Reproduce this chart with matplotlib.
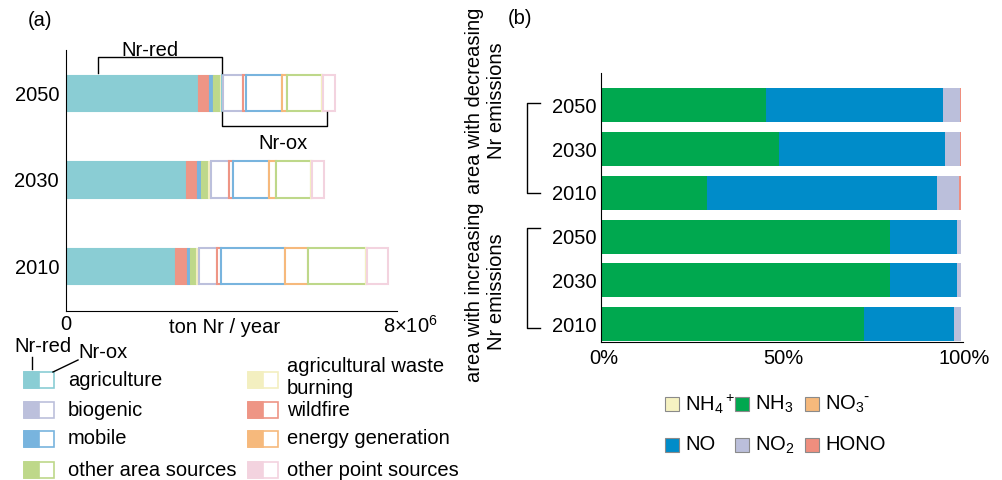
import matplotlib
matplotlib.use("Agg")
import matplotlib.pyplot as plt
from matplotlib.patches import Rectangle
from matplotlib.transforms import ScaledTranslation
import numpy as np

plt.rcParams['font.family'] = ['Liberation Sans', 'DejaVu Sans']
plt.rcParams['mathtext.default'] = 'regular'
plt.rcParams['font.size'] = 14.5

# ---- panel (a): Nr emissions by source, 1e6 ton Nr / year ----
years = ['2010', '2030', '2050']
sources = ['agriculture', 'biogenic', 'wildfire', 'mobile', 'energy generation',
           'other area sources', 'agricultural waste burning', 'other point sources']
src_colors = ['#8acdd4', '#bcc0dc', '#ee9585', '#78b4de', '#f6b97c',
              '#bed88a', '#f3efc0', '#f3d3df']

# one list per year, values in source order above
red_2010 = [2.63, 0.0, 0.290, 0.080, 0.0, 0.145, 0.041, 0.031]
red_2030 = [2.91, 0.0, 0.266, 0.089, 0.0, 0.176, 0.048, 0.024]
red_2050 = [3.18, 0.0, 0.283, 0.089, 0.010, 0.152, 0.024, 0.041]
ox_2010 = [0.0, 0.435, 0.089, 1.56, 0.549, 1.40, 0.020, 0.524]
ox_2030 = [0.0, 0.435, 0.089, 0.87, 0.162, 0.846, 0.020, 0.297]
ox_2050 = [0.017, 0.483, 0.080, 0.87, 0.121, 0.846, 0.024, 0.273]

# legend layout (two columns)
legend_left = ['agriculture', 'biogenic', 'mobile', 'other area sources']
legend_right = ['agricultural waste burning', 'wildfire', 'energy generation',
                'other point sources']

# ---- panel (b): composition, % ----
rows_b = ['2010', '2030', '2050', '2010', '2030', '2050']   # bottom to top
species = ['NH$_4$$^+$', 'NH$_3$', 'NO$_3$$^{\\text{-}}$', 'NO', 'NO$_2$', 'HONO']
sp_colors = ['#f6f2c2', '#00a84f', '#f6b97c', '#008cc9', '#bbbfdb', '#ef8e7e']
nh4 = [0.0, 0.0, 0.0, 0.0, 0.0, 0.0]
nh3 = [73.0, 80.2, 80.2, 29.6, 49.5, 46.0]
no3 = [0.0, 0.0, 0.0, 0.0, 0.0, 0.0]
no = [25.2, 18.7, 18.7, 63.7, 46.0, 49.1]
no2 = [1.8, 1.1, 1.1, 6.3, 4.2, 4.6]
hono = [0.0, 0.0, 0.0, 0.4, 0.3, 0.3]

W, H = 1003, 480
fig = plt.figure(figsize=(W/100, H/100), dpi=100)

# ---------------- panel (a) ----------------
ax1 = fig.add_axes([66/W, 1-311/H, 331/W, 261/H])
red = np.array([red_2010, red_2030, red_2050]) * 1e6
ox = np.array([ox_2010, ox_2030, ox_2050]) * 1e6
ypos = np.arange(len(years))
bh = 0.42
for i, y in enumerate(ypos):
    left = 0.0
    for j, c in enumerate(src_colors):
        w = red[i, j]
        if w > 0:
            ax1.barh(y, w, left=left, height=bh, color=c, edgecolor=c, linewidth=0.8)
        left += w
    for j, c in enumerate(src_colors):
        w = ox[i, j]
        if w > 0:
            ax1.barh(y, w, left=left, height=bh, facecolor='white', edgecolor=c,
                     linewidth=1.5)
        left += w

ax1.set_xlim(0, 8e6)
ax1.set_ylim(-0.52, 2.5)
ax1.set_yticks(ypos)
ax1.set_yticklabels(years)
ax1.set_xticks([0, 8e6])
ax1.set_xticklabels(['0', '8×10$^6$'])
ax1.tick_params(length=0)
ax1.tick_params(axis='x', pad=3)
ax1.tick_params(axis='y', pad=5)
lbl = ax1.get_xticklabels()[1]
lbl.set_transform(lbl.get_transform() + ScaledTranslation(13/100, 0, fig.dpi_scale_trans))
ax1.set_xlabel('ton Nr / year')
ax1.xaxis.set_label_coords((225-66)/331, -0.025)
for s in ['top', 'right']:
    ax1.spines[s].set_visible(False)

# Nr-red / Nr-ox brackets (2050 bar)
red_end = red[2].sum()
ox_end = red_end + ox[2].sum()
kw = dict(color='k', lw=1, clip_on=False)
ax1.plot([0.77e6, 0.77e6, red_end, red_end], [2.23, 2.42, 2.42, 2.23], **kw)
ax1.text(2.03e6, 2.5, 'Nr-red', ha='center', va='center', clip_on=False)
ax1.plot([red_end, red_end, ox_end - 0.18e6, ox_end - 0.18e6],
         [1.78, 1.62, 1.62, 1.78], **kw)
ax1.text(5.24e6, 1.42, 'Nr-ox', ha='center', va='center')

# ---------------- panel (b) ----------------
ax2 = fig.add_axes([600.7/W, 1-342/H, 362/W, 269/H])
yb = np.arange(len(rows_b))
left = np.zeros(len(rows_b))
for vals, c in zip([nh4, nh3, no3, no, no2, hono], sp_colors):
    vals = np.array(vals)
    ax2.barh(yb, vals, left=left, height=0.78, color=c, linewidth=0)
    left += vals
ax2.set_xlim(0, 100.5)
ax2.set_ylim(-0.41, 5.74)
ax2.set_yticks(yb)
ax2.set_yticklabels(rows_b)
ax2.set_xticks([0, 50, 100])
ax2.set_xticklabels(['0%', '50%', '100%'])
ax2.tick_params(length=0)
ax2.tick_params(axis='x', pad=5)
ax2.tick_params(axis='y', pad=3)
for l in ax2.get_xticklabels():
    l.set_transform(l.get_transform() + ScaledTranslation(3/100, 0, fig.dpi_scale_trans))
for s in ['top', 'right']:
    ax2.spines[s].set_visible(False)

# ---------------- overlay in pixel coordinates ----------------
ov = fig.add_axes([0, 0, 1, 1])
ov.set_xlim(0, W)
ov.set_ylim(H, 0)
ov.axis('off')
ov.patch.set_alpha(0)

ov.text(40, 20, '(a)', ha='center', va='center')
ov.text(520, 18, '(b)', ha='center', va='center')

# source legend
def two_part_patch(x, yc, c):
    ov.add_patch(Rectangle((x, yc-8), 30, 16, facecolor='white', edgecolor=c, lw=1.2))
    ov.add_patch(Rectangle((x, yc-8), 15, 16, facecolor=c, edgecolor=c, lw=1.2))

rows_y = [380, 410, 439, 470]
for name, yc in zip(legend_left, rows_y):
    two_part_patch(24, yc, src_colors[sources.index(name)])
    ov.text(68, yc, name, ha='left', va='center')
for name, yc in zip(legend_right, rows_y):
    two_part_patch(248, yc, src_colors[sources.index(name)])
    txt = 'agricultural waste\nburning' if name == 'agricultural waste burning' else name
    ov.text(287, yc - (3 if '\n' in txt else 0), txt, ha='left', va='center',
            linespacing=1.2)

ov.text(43, 347, 'Nr-red', ha='center', va='center')
ov.plot([31.7, 31.7], [357, 369], color='k', lw=1)
ov.text(103, 353, 'Nr-ox', ha='center', va='center')
ov.plot([53, 78], [372, 360], color='k', lw=1)

# species legend
for k, (name, c) in enumerate(zip(species, sp_colors)):
    x = 665 + 70 * (k % 3)
    yc = 404 if k < 3 else 445
    ov.add_patch(Rectangle((x, yc-7), 14, 14, facecolor=c, edgecolor='#8a8a8a', lw=0.8))
    ov.text(x + 20, yc, name, ha='left', va='center')

# group brackets and labels for panel (b)
for top, bot in [(103, 193), (228, 328)]:
    ov.plot([540, 526.7, 526.7, 540], [top, top, bot, bot], color='k', lw=1)
ov.text(485.5, 101, 'area with decreasing\nNr emissions', rotation=90,
        ha='center', va='center', multialignment='center', linespacing=1.2)
ov.text(485.5, 292, 'area with increasing\nNr emissions', rotation=90,
        ha='center', va='center', multialignment='center', linespacing=1.2)

fig.savefig('out.png', dpi=100)
